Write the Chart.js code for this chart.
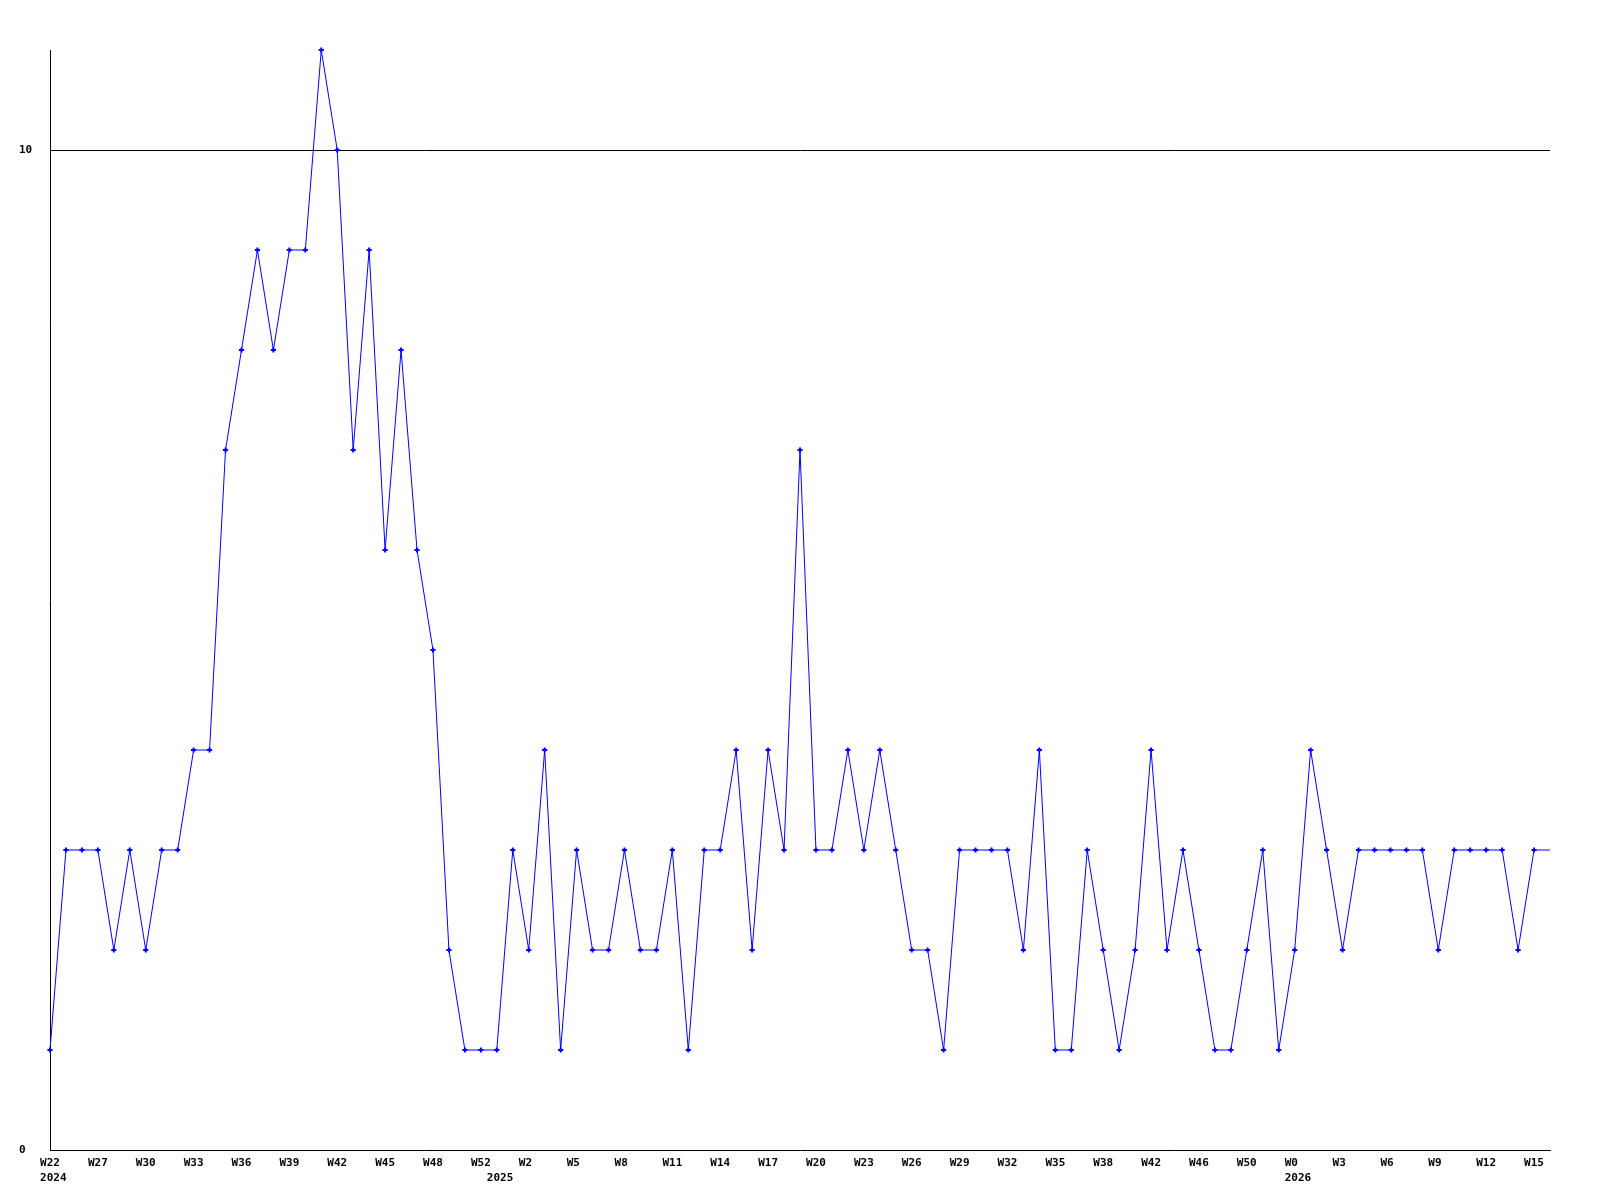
<!DOCTYPE html>
<html lang="en">
<head>
    <meta charset="UTF-8">
    <title>Weekly count</title>
    <style>
        body {
            margin: 0;
            background: #ffffff;
        }
        .chart-box {
            width: 1600px;
            height: 1200px;
        }
    </style>
    <script src="https://cdn.jsdelivr.net/npm/chart.js"></script>
</head>
<body>
    <div class="chart-box">
        <canvas id="weekChart" width="1600" height="1200"></canvas>
    </div>

    <script>
        // Weekly values, W22 2024 .. W15 2026 (last one has no marker)
        const weekValues = [
            1, 3, 3, 3, 2, 3, 2, 3, 3, 4,
            4, 7, 8, 9, 8, 9, 9, 11, 10, 7,
            9, 6, 8, 6, 5, 2, 1, 1, 1, 3,
            2, 4, 1, 3, 2, 2, 3, 2, 2, 3,
            1, 3, 3, 4, 2, 4, 3, 7, 3, 3,
            4, 3, 4, 3, 2, 2, 1, 3, 3, 3,
            3, 2, 4, 1, 1, 3, 2, 1, 2, 4,
            2, 3, 2, 1, 1, 2, 3, 1, 2, 4,
            3, 2, 3, 3, 3, 3, 3, 2, 3, 3,
            3, 3, 2, 3, 3
        ];

        // x tick labels, one on every third point
        const weekTicks = [
            'W22', 'W27', 'W30', 'W33', 'W36', 'W39', 'W42', 'W45', 'W48', 'W52',
            'W2', 'W5', 'W8', 'W11', 'W14', 'W17', 'W20', 'W23', 'W26', 'W29',
            'W32', 'W35', 'W38', 'W42', 'W46', 'W50', 'W0', 'W3', 'W6', 'W9',
            'W12', 'W15'
        ];
        const tickEvery = 3;

        // year labels and the point they sit under
        const yearNames = ['2024', '2025', '2026'];
        const yearIndex = [0, 28, 78];

        const yTicks = [0, 10];
        const yMax = 11;

        const categories = weekValues.map((v, i) => i);

        // labels are drawn as if 3 chars wide, starting left of the point
        function pad3(s) {
            return s.length < 3 ? s.padEnd(3, ' ') : s;
        }

        function xLabel(index) {
            let week = '';
            if (index % tickEvery === 0) {
                week = pad3(weekTicks[index / tickEvery] || '');
            }
            const y = yearIndex.indexOf(index);
            if (y >= 0) {
                return [week, ' ' + yearNames[y]];
            }
            return week;
        }

        const monoFont = {
            family: "'DejaVu Sans Mono', 'Liberation Mono', monospace",
            size: 11,
            weight: 'bold',
            lineHeight: 1.4
        };

        const ctx = document.getElementById('weekChart').getContext('2d');
        const weekChart = new Chart(ctx, {
            type: 'line',
            data: {
                labels: categories,
                datasets: [{
                    data: weekValues,
                    borderColor: '#0000ff',
                    backgroundColor: '#0000ff',
                    borderWidth: 1,
                    tension: 0,
                    fill: false,
                    pointStyle: 'cross',
                    pointRadius: weekValues.map((v, i) => i === weekValues.length - 1 ? 0 : 2.6),
                    pointBorderColor: '#0000ff',
                    pointBorderWidth: 2,
                    clip: 6
                }]
            },
            options: {
                responsive: false,
                animation: false,
                layout: {
                    padding: { left: 19, right: 50, top: 50, bottom: 0 }
                },
                plugins: {
                    legend: { display: false },
                    tooltip: { enabled: false }
                },
                scales: {
                    x: {
                        type: 'category',
                        offset: false,
                        afterFit: function (scale) { scale.height = 50; },
                        grid: { display: false, drawTicks: false },
                        border: { display: true, color: '#000000', width: 1 },
                        ticks: {
                            autoSkip: false,
                            maxRotation: 0,
                            minRotation: 0,
                            padding: 5,
                            color: '#000000',
                            font: monoFont,
                            callback: function (value, index) { return xLabel(index); }
                        }
                    },
                    y: {
                        min: 0,
                        max: yMax,
                        afterFit: function (scale) { scale.width = 31; },
                        afterBuildTicks: function (scale) {
                            scale.ticks = yTicks.map(v => ({ value: v }));
                        },
                        grid: {
                            drawTicks: false,
                            color: c => c.tick && c.tick.value === 10 ? '#000000' : 'rgba(0,0,0,0)',
                            lineWidth: 1
                        },
                        border: { display: true, color: '#000000', width: 1 },
                        ticks: {
                            crossAlign: 'far',
                            padding: 0,
                            color: '#000000',
                            font: monoFont
                        }
                    }
                }
            }
        });
    </script>
</body>
</html>
